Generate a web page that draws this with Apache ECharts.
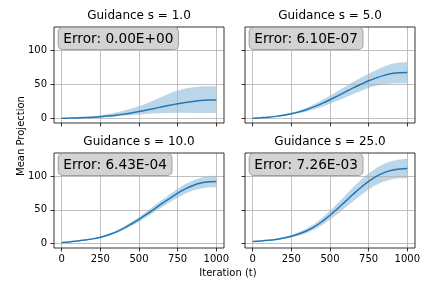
<!DOCTYPE html>
<html><head><meta charset="utf-8">
<script src="https://cdn.jsdelivr.net/npm/echarts@6/dist/echarts.min.js"></script>
<style>html,body{margin:0;padding:0;background:#fff}#c{width:432px;height:288px}</style>
</head><body><div id="c"></div>
<script>
const iterations = [0,50,100,150,200,250,300,350,400,450,500,550,600,650,700,750,800,850,900,950,1000];
const panelTitles = ['Guidance s = 1.0','Guidance s = 5.0','Guidance s = 10.0','Guidance s = 25.0'];
const errorTexts = ['Error: 0.00E+00','Error: 6.10E-07','Error: 6.43E-04','Error: 7.26E-03'];
const xTicks = [0,250,500,750,1000];
const yTicks = [0,50,100];

const mean1 = [0.5,0.7,1.0,1.4,2.0,2.8,3.8,5.0,6.5,8.3,10.3,12.5,14.8,17.2,19.5,21.6,23.4,25.0,26.3,27.0,27.3];
const hi1   = [0.8,1.1,1.6,2.3,3.3,4.7,6.5,8.8,11.5,14.6,18.0,22.0,27.0,32.0,37.0,41.0,44.0,45.8,46.8,47.2,47.3];
const lo1   = [0.2,0.3,0.5,0.7,1.0,1.5,2.2,3.0,4.0,5.0,6.0,6.8,7.4,7.9,8.2,8.4,8.4,8.3,8.2,8.1,8.0];

const mean2 = [0.5,1.2,2.0,3.2,4.8,7.0,9.8,13.2,17.4,22.2,27.5,33.2,39.0,44.8,50.2,55.3,59.5,63.2,65.8,67.0,67.3];
const hi2   = [0.7,1.5,2.5,3.9,5.8,8.4,11.8,16.0,21.2,27.1,33.5,40.2,47.0,53.8,59.9,65.6,71.0,76.2,80.3,82.2,82.8];
const lo2   = [0.3,0.9,1.5,2.5,3.8,5.6,7.8,10.4,13.6,17.3,21.5,26.2,31.0,35.8,40.5,45.0,48.0,50.2,51.3,51.8,51.8];

const mean3 = [1.5,2.5,3.8,5.2,7.0,9.5,12.8,17.0,22.5,29.0,36.0,43.5,51.5,59.5,67.0,74.5,81.0,86.0,89.5,91.5,92.0];
const hi3   = [1.8,2.9,4.3,5.8,7.8,10.5,14.2,18.8,24.8,31.9,39.5,47.6,56.3,65.0,73.0,81.0,88.0,93.5,97.5,99.8,100.5];
const lo3   = [1.2,2.1,3.3,4.6,6.2,8.5,11.4,15.2,20.2,26.1,32.5,39.4,46.7,54.0,61.0,68.0,74.0,78.5,81.5,83.2,83.5];

const mean4 = [3.0,3.8,4.8,6.2,8.2,11.0,14.5,19.0,25.0,33.0,42.0,52.0,62.5,73.0,83.0,92.0,99.5,105.0,108.5,110.5,111.0];
const hi4   = [3.4,4.3,5.5,7.2,9.5,12.8,17.0,22.3,29.2,38.3,48.5,59.8,71.5,83.5,94.5,104.0,112.0,118.0,122.0,124.5,125.5];
const lo4   = [2.6,3.3,4.1,5.2,6.9,9.2,12.0,15.7,20.8,27.7,35.5,44.2,53.5,62.5,71.5,80.0,87.0,92.0,95.0,96.5,96.5];

const means = [mean1,mean2,mean3,mean4];
const his = [hi1,hi2,hi3,hi4];
const los = [lo1,lo2,lo3,lo4];

const FONT = 'DejaVu Sans';
const grids = [
  {left:54, top:27, width:170, height:96},
  {left:245, top:27, width:170, height:96},
  {left:54, top:153, width:170, height:95},
  {left:245, top:153, width:170, height:95}
];
const chart = echarts.init(document.getElementById('c'), null, {renderer:'canvas'});
const xAxes = [], yAxes = [], series = [], graphics = [];
grids.forEach((g, i) => {
  const bottomRow = i >= 2, leftCol = i % 2 === 0;
  xAxes.push({
    type:'value', gridIndex:i, min:-50, max:1050, z:3,
    axisLine:{show:false, onZero:false},
    axisTick:{show:true, inside:false, length:3.5, lineStyle:{color:'#000', width:0.8}, customValues:xTicks},
    axisLabel:{show:bottomRow, customValues:xTicks, formatter:v => String(v), color:'#000', fontFamily:FONT, fontSize:10, margin:6},
    splitLine:{show:true, lineStyle:{color:'#b0b0b0', width:0.8}}
  });
  yAxes.push({
    type:'value', gridIndex:i, min:-6.5, max:134, z:3,
    axisLine:{show:false, onZero:false},
    axisTick:{show:true, inside:false, length:3.5, lineStyle:{color:'#000', width:0.8}, customValues:yTicks},
    axisLabel:{show:leftCol, customValues:yTicks, formatter:v => String(v), color:'#000', fontFamily:FONT, fontSize:10, margin:7},
    splitLine:{show:true, lineStyle:{color:'#b0b0b0', width:0.8}}
  });
  const bandData = iterations.map((x,k)=>[x, los[i][k], his[i][k]]);
  const mean = means[i].map((v,k)=>[iterations[k], v]);
  series.push({
    type:'custom', xAxisIndex:i, yAxisIndex:i, data:bandData, z:1, silent:true,
    encode:{x:0, y:[1,2]},
    renderItem:(params, api) => {
      if (params.dataIndex !== 0) return null;
      const upper = bandData.map(d => api.coord([d[0], d[2]]));
      const lower = bandData.map(d => api.coord([d[0], d[1]])).reverse();
      return {type:'polygon', shape:{points: upper.concat(lower)}, style:{fill:'rgba(31,119,180,0.3)', stroke:null}};
    }
  });
  series.push({type:'line', xAxisIndex:i, yAxisIndex:i, data:mean, showSymbol:false, smooth:0.4, lineStyle:{width:1.5, color:'#1f77b4'}, z:5, silent:true});
  graphics.push({type:'text', x:g.left + g.width/2, y:g.top - 11, z:10,
    style:{text:panelTitles[i], textAlign:'center', textVerticalAlign:'middle', font:'12px "DejaVu Sans"', fill:'#000'}});
  graphics.push({type:'text', x:g.left + 4.7, y:g.top + 1, z:10,
    style:{text:errorTexts[i], textAlign:'left', textVerticalAlign:'top', font:'13.7px "DejaVu Sans"', fill:'#000',
      backgroundColor:'#d3d3d3', borderColor:'#a0a0a0', borderWidth:1, borderRadius:4, padding:[3,4.6,2,4.6], lineHeight:16}});
});
graphics.push({type:'text', x:228, y:273, style:{text:'Iteration (t)', textAlign:'center', textVerticalAlign:'middle', font:'10px "DejaVu Sans"', fill:'#000'}});
graphics.push({type:'text', x:21, y:136, rotation:Math.PI/2, style:{text:'Mean Projection', textAlign:'center', textVerticalAlign:'middle', font:'10px "DejaVu Sans"', fill:'#000'}});

chart.setOption({
  animation:false,
  backgroundColor:'#fff',
  grid: grids.map(g => Object.assign({show:true, borderColor:'#000', borderWidth:0.8, backgroundColor:'transparent', z:4}, g)),
  xAxis:xAxes, yAxis:yAxes, series:series, graphic:graphics
});
</script></body></html>
